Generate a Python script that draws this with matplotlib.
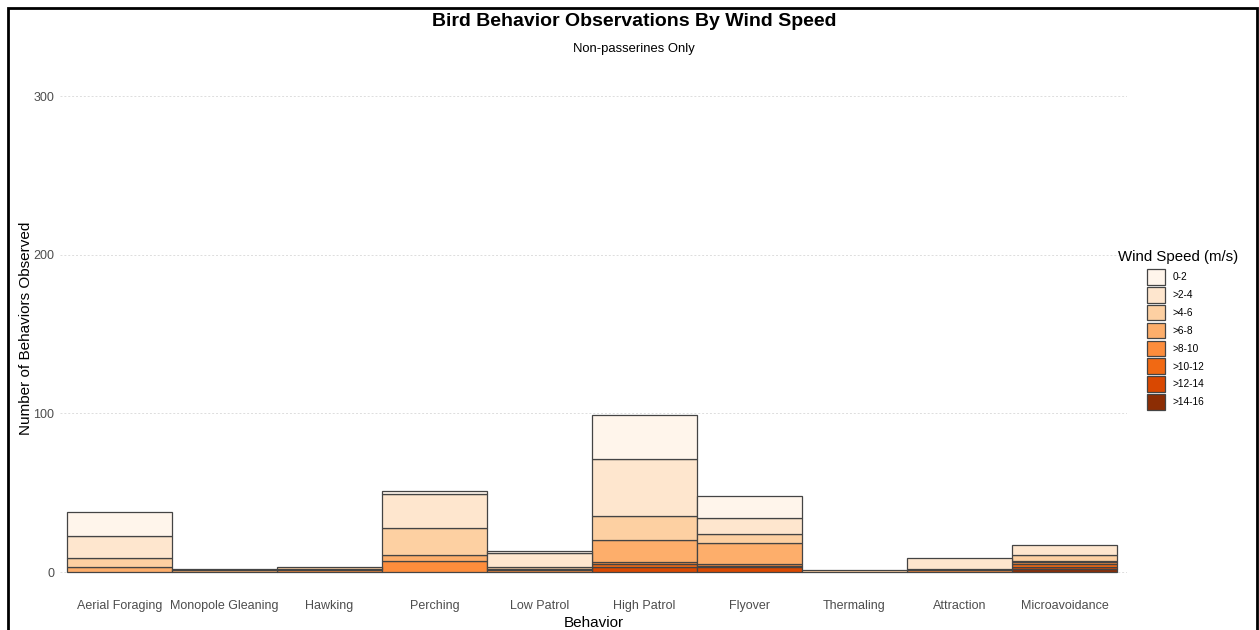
import matplotlib.pyplot as plt
from matplotlib.patches import Patch, Rectangle
import numpy as np

plt.rcParams['font.family'] = ['Liberation Sans', 'DejaVu Sans']

behaviors = ['Aerial Foraging', 'Monopole Gleaning', 'Hawking', 'Perching', 'Low Patrol',
             'High Patrol', 'Flyover', 'Thermaling', 'Attraction', 'Microavoidance']
wind_bins = ['0-2', '>2-4', '>4-6', '>6-8', '>8-10', '>10-12', '>12-14', '>14-16']

# counts per wind bin, one value per behavior
w0_2 = [15, 0, 0, 2, 1, 28, 14, 0, 0, 0]
w2_4 = [14, 0, 0, 21, 9, 36, 10, 0, 7, 6]
w4_6 = [6, 1, 1, 17, 1, 15, 6, 1, 0, 4]
w6_8 = [3, 1, 1, 4, 1, 14, 13, 0, 1, 1]
w8_10 = [0, 0, 1, 7, 1, 1, 1, 0, 1, 1]
w10_12 = [0, 0, 0, 0, 0, 2, 1, 0, 0, 2]
w12_14 = [0, 0, 0, 0, 0, 3, 3, 0, 0, 1]
w14_16 = [0, 0, 0, 0, 0, 0, 0, 0, 0, 2]

counts = [w0_2, w2_4, w4_6, w6_8, w8_10, w10_12, w12_14, w14_16]
colors = ['#fff5eb', '#fee6ce', '#fdd0a2', '#fdae6b', '#fd8d3c', '#f16913', '#d94801', '#8c2d04']
edge = '#444444'

fig = plt.figure(figsize=(12.59, 6.3), dpi=100)
ax = fig.add_axes([60/1259, 1 - 584.7/630, 1067/1259, (584.7 - 72.2)/630])

x = np.arange(len(behaviors))
bottom = np.zeros(len(behaviors))
# ggplot stacks the first level on top, so draw from the last bin upward
for vals, col in zip(counts[::-1], colors[::-1]):
    vals = np.array(vals, dtype=float)
    m = vals > 0
    ax.bar(x[m], vals[m], width=1.0, bottom=bottom[m], color=col,
           edgecolor=edge, linewidth=0.9, zorder=3)
    bottom += vals

ax.set_xlim(-0.567, 9.595)
ax.set_ylim(-8, 315)
ax.set_yticks([0, 100, 200, 300])
ax.set_xticks(x)
ax.set_xticklabels(behaviors)
ax.tick_params(length=0, labelsize=9, labelcolor='#4d4d4d', pad=4)
ax.tick_params(axis='x', pad=11)
ax.grid(axis='y', color='#dddddd', linestyle=(0, (2, 2)), linewidth=0.7, zorder=0)
for s in ax.spines.values():
    s.set_visible(False)

ax.set_xlabel('Behavior', fontsize=11, labelpad=3)
ax.set_ylabel('Number of Behaviors Observed', fontsize=11, labelpad=0)

fig.text(634/1259, 1 - 22/630, 'Bird Behavior Observations By Wind Speed',
         ha='center', va='center', fontsize=14, fontweight='bold')
fig.text(634/1259, 1 - 49/630, 'Non-passerines Only', ha='center', va='center', fontsize=9.4)

fig.text(1118/1259, 1 - 257/630, 'Wind Speed (m/s)', ha='left', va='center', fontsize=10.8)
handles = [Patch(facecolor=c, edgecolor=edge, linewidth=0.9) for c in colors]
leg = fig.legend(handles, wind_bins, loc='upper left', bbox_to_anchor=(1147/1259, 1 - 269/630),
                 frameon=False, fontsize=7.3, handlelength=1.75, handleheight=2.0,
                 labelspacing=0.22, handletextpad=0.75, borderpad=0, borderaxespad=0)

# outer frame of the screenshot
fig.add_artist(Rectangle((8/1259, -0.1), (1257 - 8)/1259, 1.1 - 8/630, transform=fig.transFigure,
                         fill=False, edgecolor='black', linewidth=2, clip_on=False))

fig.savefig('out.png', dpi=100)
